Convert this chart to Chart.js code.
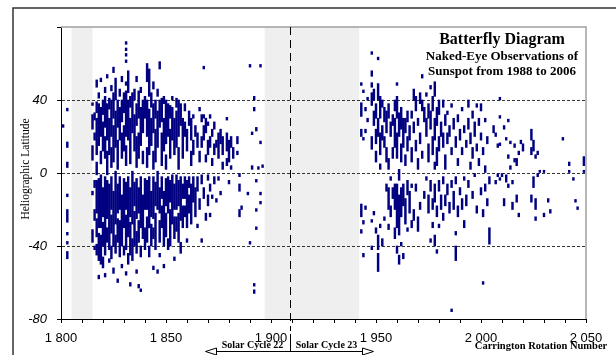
<!DOCTYPE html>
<html>
<head>
<meta charset="utf-8">
<script src="https://cdn.jsdelivr.net/npm/chart.js@4.4.0/dist/chart.umd.min.js"></script>
<style>
  body { margin: 0; background: #fff; }
  canvas { display: block; }
</style>
</head>
<body>
<canvas id="grafico" width="616" height="355"></canvas>
<script>
// each row: Carrington rotation, then pairs of latitude (from, to) of the spot marks
const cycle22 = [
    [1801, 25,26.5],
    [1803, 34,35.5, 14,17, 3,6, -13,-11.5, -27,-20, -34,-32.5, -39,-37.5, -47,-43],
    [1815, 37,38.5, 24,32, 7,15, -12,-10, -38,-31],
    [1816, 29,33, 18,22, -8,-4, -26,-20, -42,-40],
    [1817, 47,51, 33,39, 10,30, -1,6, -22,-4, -35,-25, -45,-39],
    [1818, 41,44, 15,38, -30,-3, -48,-33, -58,-56],
    [1819, 50,52, 20,36, 5,12, -30,-1, -50,-34],
    [1820, 32,40, 12,28, -24,-8, -40,-27, -52,-46],
    [1821, 44,47, 25,42, 8,20, -45,-2, -57,-55],
    [1822, 52,54, 18,38, -1,12, -25,-4, -38,-30],
    [1823, 35,41, 10,30, -42,-6, -49,-47],
    [1824, 45,48, 20,40, 3,14, -20,-2, -33,-23, -47,-40],
    [1825, 55,58, 30,44, 6,26, -40,-10, -55,-52],
    [1826, 40,52, 14,34, -28,1, -44,-34],
    [1827, 25,40, 2,18, -22,-6, -38,-25, -60,-58],
    [1828, 42,46, 18,36, -20,-2, -46,-26],
    [1829, 50,53, 28,40, 8,22, -40,-12, -52,-50],
    [1830, 33,44, 12,26, -30,-3, -45,-40],
    [1831, 70.5,72, 67,68.5, 64,65.5, 60.5,62, 48,50, 20,45, 4,15, -20,-5, -42,-23, -56,-54],
    [1832, 44,56, 18,40, -35,-2, -50,-44],
    [1833, 36,42, 5,30, -24,-8, -45,-27, -62,-60],
    [1834, 22,44, -28,1, -48,-36],
    [1835, 40,46, 12,32, -18,-5, -40,-21],
    [1836, 50,53, 26,38, 3,20, -25,-3, -44,-32, -55,-53],
    [1837, 30,45, 8,22, -22,-8, -38,-26, -63,-61],
    [1838, 44,47, 15,36, -30,-2, -46,-40, -65,-63.5],
    [1839, 22,40, 5,12, -36,-12],
    [1840, 30,42, -20,-3, -42,-30],
    [1841, 50,60, 20,40, 3,14, -20,-4, -38,-24],
    [1842, 42,57, 10,35, -30,-2, -46,-40],
    [1843, 36,44, 15,30, -24,-10, -40,-28],
    [1844, 46,50, 22,38, 2,12, -25,-2, -36,-30, -53,-51],
    [1845, 30,40, 6,24, -18,-5, -42,-22],
    [1846, 42,46, 14,34, -20,1, -55,-53],
    [1847, 57,61, 25,40, -22,-8, -38,-26, -46,-44],
    [1848, 28,41, 4,22, -14,-2, -30,-18],
    [1849, 38,42, 12,30, -40,-10, -52,-50],
    [1850, 34,40, 16,34, 2,10, -18,-3, -35,-22],
    [1851, 20,38, -22,-2, -42,-36],
    [1852, 30,37, 8,24, -16,-4, -40,-20],
    [1853, 40,42, 18,36, -28,-1],
    [1854, 10,30, -20,-6, -36,-24, -48,-46],
    [1855, 36,41, 14,34, -20,-1, -32,-24],
    [1856, 20,40, 2,14, -18,-4, -38,-22],
    [1857, 26,38, -26,-2, -44,-38],
    [1858, 8,30, -14,-6, -30,-18],
    [1859, 34,38, 20,28, -14,-2, -24,-18],
    [1860, 12,24, -30,-4, -38,-36],
    [1861, 26,34, -8,-2, -22,-12],
    [1862, 18,30, 4,12, -28,-6],
    [1863, 30,32, 10,18, -16,-2],
    [1864, 20,26, -24,-8],
    [1865, 14,22, -10,-2, -30,-28],
    [1866, 34,36, 6,12, -20,-14],
    [1867, 28,32, 14,20, -6,-1, -38,-36],
    [1868, 57,58.5, 30,32, 18,26, -14,-8],
    [1869, 22,30, 6,10, -26,-22],
    [1870, 26,28, 10,18, -4,-1, -18,-12],
    [1871, 30,32, 14,20, -10,-6, -24,-22],
    [1872, 20,24, 4,8, -14,-12],
    [1873, 24,28, 10,16, -6,-2],
    [1874, 14,18, -16,-14],
    [1875, 8,22, -4,-2],
    [1876, 16,24, -12,-10],
    [1877, 10,20, 2,6],
    [1879, 29,30.5, 12,22, 4,8],
    [1880, 6,18, -6,-4],
    [1881, 14,20, 2,4],
    [1882, 8,14],
    [1884, 16,20, 10,12],
    [1885, -2,0, -10,-6, -24,-20],
    [1886, -20,-18],
    [1889, -12,-10.5],
    [1890, 58,59.5, -39,-37.5],
    [1891, 21,22.5, 2,4],
    [1892, 40,42, 34,36, -62,-60.5, -66,-64],
    [1893, 23,25, -5,-3.5, -21,-19.5, -31,-29.5],
    [1894, 2,3.5],
    [1895, 58,59.5, 16,17.5, -12,-10.5, -17,-15.5],
    [1896, 3,4.5]
]

const cycle23 = [
    [1943, 48,49.5, 31,38.5, 20,24, -24,-17, -33,-31],
    [1944, 44,45.5, 18,19.5, -28,-26, -46,-44],
    [1945, 34,36, 22,24, -20,-18],
    [1946, 40,41.5, 28,30],
    [1948, 65,66.5, 53,56, 47,49.5, 37,44, 13,20, -27,-25.5, -42,-40],
    [1949, 40,46, 26,34, -23,-21],
    [1950, 30,38, 16,24, 6,12, -33,-30],
    [1951, 62,63.5, 40,49, 20,30, -42,-34, -54,-44],
    [1952, 30,42, 10,22, 2,5, -30,-28],
    [1953, 36,40, 18,26, -40,-36],
    [1954, 28,36, 14,20, -26,-24],
    [1955, 22,34, 6,14, -10,-6],
    [1956, 30,38, 2,8, -20,-8, -31,-28],
    [1957, 20,28, -4,-2, -24,-18],
    [1958, 26,32, 8,14, -14,-8],
    [1959, 34,40, 14,30, -20,-6, -36,-30],
    [1960, 48,49.5, 30,42, 8,22, -30,-6, -44,-40],
    [1961, 20,33, -4,2, -34,-12, -50,-45],
    [1962, 24,36, 6,16, -24,-8, -40,-38],
    [1963, 14,30, -18,-6, -47,-44],
    [1964, 22,30, 4,10, -28,-14],
    [1965, 28,34, 12,20, -12,-4, -32,-30],
    [1966, 18,26, -22,-10],
    [1967, 30,34, 6,14, -8,-6, -30,-26],
    [1968, 40,46, 22,28, -26,-20],
    [1969, 34,42, 12,18, -10,-6],
    [1970, 26,30, 2,8, -32,-24],
    [1971, 38,44, 16,22, -20,-16],
    [1972, 52,54, 34,40, 8,12],
    [1973, 28,36, -14,-10],
    [1974, 42,44, 20,30, -4,-2],
    [1975, 30,38, 6,16, -22,-12],
    [1976, 46,48, 24,34, -10,-4, -38,-36],
    [1977, 34,42, 10,20, -20,-14, -30,-27],
    [1978, 42,50, 18,30, 2,6, -16,-6, -40,-34],
    [1979, 26,36, 4,14, -24,-18, -44,-42],
    [1980, 32,40, 12,20, -10,-4, -30,-28],
    [1981, 20,28, -20,-12],
    [1982, 36,40, 14,22, -6,-2, -26,-22],
    [1983, 26,32, 2,10, -18,-12],
    [1984, 32,34, 16,22, -12,-6],
    [1985, 20,26, -22,-16],
    [1986, 36,38, 10,14, -8,-4, -76,-74.5],
    [1987, 24,30, -20,-10],
    [1988, 14,20, -6,-2, -34,-32, -48,-40],
    [1989, 28,32, 4,8, -24,-18],
    [1990, 18,24, -12,-8],
    [1991, 34,36, 10,14, -20,-14],
    [1992, 22,26, -4,-2, -30,-26],
    [1993, 14,18, -18,-12],
    [1994, 36,40, 24,30, -8,-4],
    [1995, 16,22, 2,6],
    [1996, 30,34, 8,14, -14,-10],
    [1997, 20,28, -2,0],
    [1998, 36,38, 12,16, -22,-18],
    [1999, 26,30, 4,8],
    [2000, 34,38, 18,22, -12,-8],
    [2001, 10,14, -24,-20, -61,-59.5],
    [2002, 28,30, 0,4, -10,-6],
    [2003, 16,20, -18,-14],
    [2004, -6,-2, -39,-30],
    [2006, 22,26],
    [2007, 20,22, -6,-4],
    [2008, 14,16, -2,-0.5],
    [2009, 40,41.5, 30,31.5, 15,16.5, -4,-2.5],
    [2010, -2,0],
    [2011, 24,26, -18,-14],
    [2012, 18,19.5, -5,-1],
    [2013, 28,29.5, 8,10, -8,-6],
    [2014, 16,17.5, 2,4],
    [2015, -6,-4, -20,-16],
    [2016, 14,16, 6,8],
    [2017, 4,8, -16,-12],
    [2018, 10,12, -24,-22],
    [2019, 16,18],
    [2020, 12,16],
    [2024, 18,24, 10,14, -16,-12],
    [2025, 12,18, -8,-2],
    [2026, 8,10, -20,-14, -26,-24],
    [2027, 10,12, -2,0],
    [2028, 0,1.5],
    [2030, 0,1.5, -24,-22],
    [2032, -16,-14],
    [2033, -22,-20],
    [2039, 18,19.5],
    [2042, 4,6, 0,1.5],
    [2044, -4,-2.5],
    [2045, -16,-14.5],
    [2046, -20,-18.5],
    [2049, 4,9, 0,1.5]
]

const quietBands = [[1805, 1815], [1897, 1942]]
const cycleBoundary = 1909
const cycleNames = ['Solar Cycle 22', 'Solar Cycle 23']
const titleLines = ['Batterfly Diagram', 'Naked-Eye Observations of', 'Sunspot from 1988 to 2006']

function toBars(rows) {
    let out = []
    rows.forEach((row) => {
        for (let i = 1; i < row.length; i += 2)
            out.push({x: row[0], y: [row[i], row[i + 1]]})
    })
    return out
}

function formatRotation(v) {
    return String(v).replace(/(\d)(\d{3})$/, '$1 $2')
}

const serif = '"Liberation Serif", "Times New Roman", serif'

const decorazioni = {
    id: 'decorazioni',
    beforeDraw(chart) {
        const {ctx, chartArea: a, scales: {x}} = chart
        ctx.save()
        ctx.fillStyle = '#efefef'
        quietBands.forEach(([from, to]) => {
            const x1 = x.getPixelForValue(from)
            const x2 = x.getPixelForValue(to)
            ctx.fillRect(x1, a.top, x2 - x1, a.bottom - a.top)
        })
        ctx.restore()
    },
    afterDraw(chart) {
        const {ctx, chartArea: a, scales: {x}} = chart
        ctx.save()

        // outer frame
        ctx.strokeStyle = '#333'
        ctx.lineWidth = 1.5
        ctx.beginPath()
        ctx.moveTo(13, 355)
        ctx.lineTo(13, 8)
        ctx.lineTo(616, 8)
        ctx.stroke()

        // top and right border of the plot
        ctx.strokeStyle = '#a0a0a0'
        ctx.lineWidth = 1.5
        ctx.beginPath()
        ctx.moveTo(a.left, a.top)
        ctx.lineTo(a.right, a.top)
        ctx.lineTo(a.right, a.bottom)
        ctx.stroke()

        // boundary between the cycles
        const bx = Math.round(x.getPixelForValue(cycleBoundary)) + 0.5
        ctx.strokeStyle = '#000'
        ctx.lineWidth = 1
        ctx.setLineDash([8, 5])
        ctx.beginPath()
        ctx.moveTo(bx, a.top)
        ctx.lineTo(bx, 331)
        ctx.stroke()
        ctx.setLineDash([])
        ctx.beginPath()
        ctx.moveTo(bx, 334)
        ctx.lineTo(bx, 352)
        ctx.stroke()

        // double arrow under the cycle names
        const ay = 351.5
        ctx.beginPath()
        ctx.moveTo(bx - 74, ay)
        ctx.lineTo(bx + 72, ay)
        ctx.stroke()
        ctx.fillStyle = '#fff'
        ctx.beginPath()
        ctx.moveTo(bx - 85, ay)
        ctx.lineTo(bx - 74, ay - 3.5)
        ctx.lineTo(bx - 74, ay + 3.5)
        ctx.closePath()
        ctx.fill()
        ctx.stroke()
        ctx.beginPath()
        ctx.moveTo(bx + 83, ay)
        ctx.lineTo(bx + 72, ay - 3.5)
        ctx.lineTo(bx + 72, ay + 3.5)
        ctx.closePath()
        ctx.fill()
        ctx.stroke()

        // texts
        ctx.fillStyle = '#000'
        ctx.textAlign = 'center'
        ctx.textBaseline = 'alphabetic'
        ctx.font = 'bold 10px ' + serif
        ctx.fillText(cycleNames[0], bx - 38, 348)
        ctx.fillText(cycleNames[1], bx + 36, 348)

        ctx.font = 'bold 10.5px ' + serif
        ctx.fillText('Carrington Rotation Number', 541, 349)

        ctx.font = 'bold 16px ' + serif
        ctx.fillText(titleLines[0], 502, 44)
        ctx.font = 'bold 13px ' + serif
        ctx.fillText(titleLines[1], 502, 60)
        ctx.fillText(titleLines[2], 502, 75)

        ctx.translate(26, 169)
        ctx.rotate(-Math.PI / 2)
        ctx.textBaseline = 'middle'
        ctx.font = '11.5px ' + serif
        ctx.fillText('Heliographic Latitude', 0, 0)

        ctx.restore()
    }
}

const navy = '#000080'

new Chart(document.getElementById('grafico'), {
    type: 'bar',
    data: {
        datasets: [
            {label: 'cycle 22', data: toBars(cycle22), backgroundColor: navy, borderWidth: 0, barThickness: 1.8, grouped: false},
            {label: 'cycle 23', data: toBars(cycle23), backgroundColor: navy, borderWidth: 0, barThickness: 1.8, grouped: false}
        ]
    },
    options: {
        responsive: false,
        animation: false,
        devicePixelRatio: 1,
        layout: {padding: {left: 0, top: 27, right: 30, bottom: 0}},
        plugins: {
            legend: {display: false},
            tooltip: {enabled: false}
        },
        scales: {
            x: {
                type: 'linear',
                min: 1800,
                max: 2050,
                offset: false,
                afterFit: (scale) => { scale.height = 36 },
                grid: {drawOnChartArea: false, offset: false, tickLength: 4, tickColor: '#000', color: '#000'},
                border: {color: '#000', width: 1},
                ticks: {
                    stepSize: 10,
                    autoSkip: false,
                    maxRotation: 0,
                    padding: 8,
                    color: '#000',
                    font: {family: '"Liberation Sans", Arial, sans-serif', size: 13},
                    callback: (v) => v % 50 === 0 ? formatRotation(v) : ''
                }
            },
            y: {
                min: -80,
                max: 80,
                afterFit: (scale) => { scale.width = 61 },
                grid: {
                    color: (c) => (c.tick && Math.abs(c.tick.value) < 80) ? '#333' : 'rgba(0,0,0,0)',
                    tickColor: '#000',
                    tickLength: 4,
                    lineWidth: 1
                },
                border: {color: '#000', width: 1, dash: [3, 2]},
                ticks: {
                    stepSize: 40,
                    padding: 10,
                    color: '#000',
                    font: {family: '"Liberation Sans", Arial, sans-serif', size: 13, style: 'italic'},
                    callback: (v) => v === 80 ? '' : String(v)
                }
            }
        }
    },
    plugins: [decorazioni]
})
</script>
</body>
</html>
